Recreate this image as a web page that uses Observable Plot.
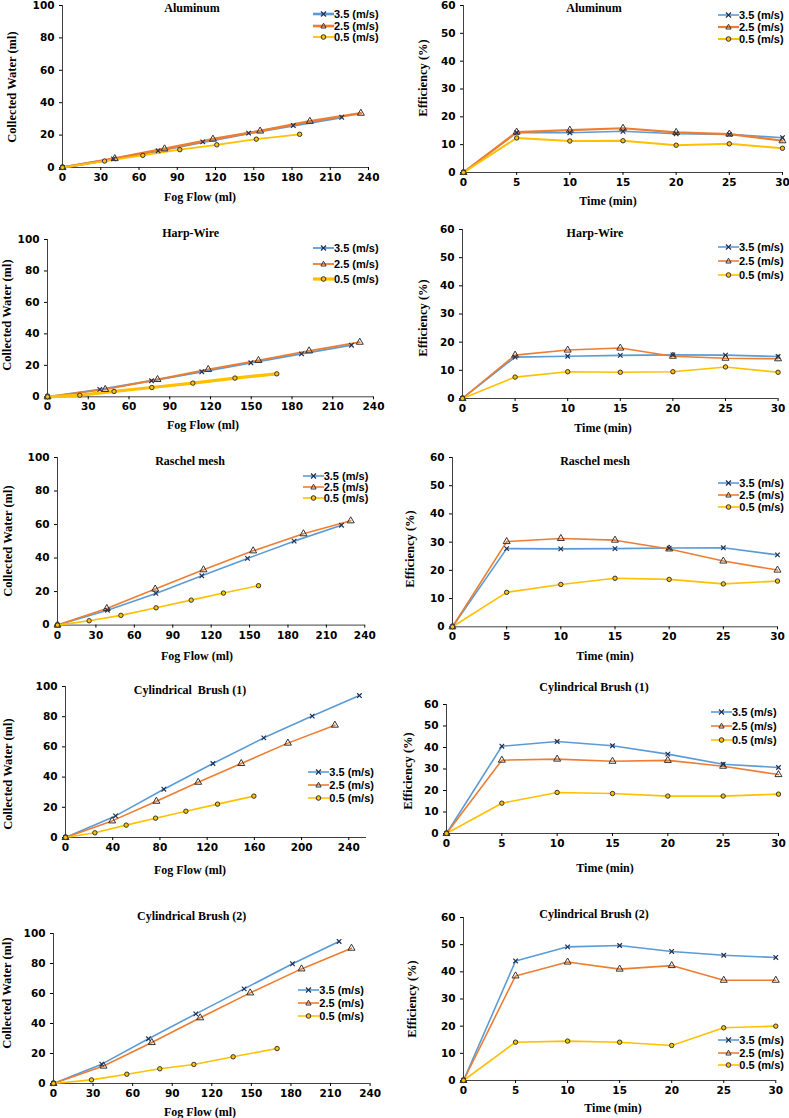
<!DOCTYPE html>
<html>
<head>
<meta charset="utf-8">
<script src="https://cdn.jsdelivr.net/npm/d3@7"></script>
<script src="https://cdn.jsdelivr.net/npm/@observablehq/plot@0.6"></script>
<style>
  body { margin: 0; background: #fff; }
  #c { position: relative; width: 789px; height: 1118px; overflow: hidden; background: #fff; }
  .t { position: absolute; transform: translate(-50%, -50%); white-space: pre; font-family: "Liberation Serif", serif; font-weight: bold; font-size: 12px; color: #000; }
  .yl { position: absolute; transform: translate(-50%, -50%) rotate(-90deg); white-space: pre; font-family: "Liberation Serif", serif; font-weight: bold; font-size: 12.5px; color: #000; }
  .lg { position: absolute; font-family: "Liberation Sans", Arial, sans-serif; font-weight: bold; font-size: 11px; color: #000; white-space: nowrap; }
  .lg svg { vertical-align: middle; }
</style>
</head>
<body>
<div id="c"></div>
<script>
// ---------------- DATA ----------------
const speeds = ["3.5 (m/s)", "2.5 (m/s)", "0.5 (m/s)"];
const time = [0, 5, 10, 15, 20, 25, 30];

// Aluminum
const alFlow35 = [0, 40, 75, 110, 146, 181, 219];
const alWater35 = [0, 5.3, 10.3, 15.8, 21.2, 25.9, 31];
const alFlow25 = [0, 41, 80, 118, 155, 194, 234];
const alWater25 = [0, 5.5, 11.5, 17.5, 22.5, 28.5, 33.5];
const alFlow05 = [0, 33, 63, 92, 121, 152, 186];
const alWater05 = [0, 4, 7.5, 11, 14, 17.5, 20.5];
const alEff35 = [0, 14.3, 14.3, 14.8, 13.9, 13.7, 12.5];
const alEff25 = [0, 14.5, 15.2, 15.9, 14.4, 13.8, 11.4];
const alEff05 = [0, 12.4, 11.3, 11.4, 9.8, 10.3, 8.7];

// Harp-Wire
const hwFlow35 = [0, 38.5, 76.6, 113.6, 149.7, 187, 223.8];
const hwWater35 = [0, 4.7, 10.2, 15.9, 21.6, 27.3, 32.8];
const hwFlow25 = [0, 42.5, 81, 118.3, 155.3, 192.6, 229.9];
const hwWater25 = [0, 4.7, 11, 17.4, 23.1, 29.2, 34.7];
const hwFlow05 = [0, 23.8, 49, 76.8, 107, 138, 168.8];
const hwWater05 = [0, 1, 3.4, 5.9, 8.7, 11.9, 14.6];
const hwEff35 = [0, 14.7, 15.0, 15.3, 15.5, 15.4, 14.9];
const hwEff25 = [0, 15.4, 17.2, 17.9, 15.0, 14.3, 14.1];
const hwEff05 = [0, 7.6, 9.5, 9.3, 9.5, 11.2, 9.3];

// Raschel mesh
const rmFlow35 = [0, 39, 76.8, 112.7, 148.4, 184.8, 221.8];
const rmWater35 = [0, 8.9, 18.9, 29.4, 39.8, 50.1, 59.6];
const rmFlow25 = [0, 38.5, 76.3, 114, 152.8, 192.1, 229];
const rmWater25 = [0, 9.9, 21.5, 33, 44.3, 54.5, 62.2];
const rmFlow05 = [0, 24.7, 49.5, 77, 104.4, 129.6, 157];
const rmWater05 = [0, 2.6, 5.8, 10.3, 14.9, 19.1, 23.5];
const rmEff35 = [0, 27.7, 27.6, 27.7, 27.9, 28.0, 25.5];
const rmEff25 = [0, 30.2, 31.3, 30.7, 27.6, 23.3, 20.1];
const rmEff05 = [0, 12.2, 15.0, 17.2, 16.8, 15.2, 16.2];

// Cylindrical Brush (1)
const cb1Flow35 = [0, 42.4, 83.3, 124.9, 168, 209, 249];
const cb1Water35 = [0, 14.3, 32, 49, 66, 80.4, 94];
const cb1Flow25 = [0, 39.5, 77, 112.4, 148.9, 188.4, 228.2];
const cb1Water25 = [0, 11, 24, 36.6, 49, 62.5, 74.4];
const cb1Flow05 = [0, 24.9, 51.4, 76.3, 102, 128.8, 159.6];
const cb1Water05 = [0, 3.1, 8.2, 12.8, 17.4, 22.1, 27.4];
const cb1Eff35 = [0, 40.6, 42.8, 40.8, 36.9, 32.2, 30.7];
const cb1Eff25 = [0, 34.1, 34.6, 33.6, 34.0, 31.3, 27.4];
const cb1Eff05 = [0, 14.1, 19.1, 18.6, 17.4, 17.4, 18.3];

// Cylindrical Brush (2)
const cb2Flow35 = [0, 36.6, 72, 107.9, 144.5, 181.2, 216.5];
const cb2Water35 = [0, 12.9, 29.8, 46.4, 63.1, 79.8, 94.7];
const cb2Flow25 = [0, 37.9, 74.5, 111.2, 149.1, 188, 225.9];
const cb2Water25 = [0, 11.6, 27.3, 43.8, 60.4, 76.4, 90.2];
const cb2Flow05 = [0, 28.8, 55.6, 80.6, 106.4, 136.2, 169.5];
const cb2Water05 = [0, 2.4, 6.2, 9.8, 12.7, 17.8, 23.3];
const cb2Eff35 = [0, 44.0, 49.2, 49.7, 47.5, 46.1, 45.3];
const cb2Eff25 = [0, 38.5, 43.6, 41.0, 42.3, 36.9, 36.9];
const cb2Eff05 = [0, 14.1, 14.5, 14.1, 12.9, 19.4, 20.0];

const flowTicks30 = [0, 30, 60, 90, 120, 150, 180, 210, 240];
const flowTicks40 = [0, 40, 80, 120, 160, 200, 240];
const waterTicks = [0, 20, 40, 60, 80, 100];
const effTicks = [0, 10, 20, 30, 40, 50, 60];
const timeTicks = [0, 5, 10, 15, 20, 25, 30];

// ---------------- STYLE ----------------
const W = 789;
const COLORS = ["#5B9BD5", "#ED7D31", "#FFC000"];
const SYMS = ["times", "triangle", "circle"];
const MSTROKE = ["#1F2F55", "#333333", "#333333"];
const MFILL = ["none", "none", "#FFC000"];
const MR = [2.2, 2.6, 2.2];
const root = document.getElementById("c");

function addText(cls, txt, x, y, extra) {
  const d = document.createElement("div");
  d.className = cls;
  d.textContent = txt;
  d.style.left = x + "px";
  d.style.top = y + "px";
  if (extra) Object.assign(d.style, extra);
  root.appendChild(d);
}

function swatch(i, lw) {
  const w = 21, h = 10, cx = 10.5, cy = 5;
  let m = "";
  if (i === 0) m = `<path d="M${cx-2.5},${cy-2.5}L${cx+2.5},${cy+2.5}M${cx-2.5},${cy+2.5}L${cx+2.5},${cy-2.5}" stroke="${MSTROKE[0]}" stroke-width="1.2"/>`;
  if (i === 1) m = `<path d="M${cx},${cy-2.8}L${cx+2.6},${cy+2}L${cx-2.6},${cy+2}Z" fill="none" stroke="${MSTROKE[1]}" stroke-width="1"/>`;
  if (i === 2) m = `<circle cx="${cx}" cy="${cy}" r="2.3" fill="${MFILL[2]}" stroke="${MSTROKE[2]}" stroke-width="1"/>`;
  return `<svg width="${w}" height="${h}"><line x1="0" y1="${cy}" x2="${w}" y2="${cy}" stroke="${COLORS[i]}" stroke-width="${lw}"/>${m}</svg>`;
}

function legend(x, y, gap, lws) {
  speeds.forEach((s, i) => {
    const d = document.createElement("div");
    d.className = "lg";
    d.style.left = x + "px";
    d.style.top = (y + i * gap - 7) + "px";
    d.innerHTML = swatch(i, lws[i]) + `<span style="vertical-align:middle">${s}</span>`;
    root.appendChild(d);
  });
}

function panel(cfg) {
  const mL = 50, mT = 10, mB = 24;
  const mR = Math.max(3, Math.min(18, W - cfg.x1 - 1));
  const left = cfg.x0 - mL, top = cfg.yT - mT;
  const width = cfg.x1 + mR - left;
  const height = cfg.yB + mB - top;
  const marks = [
    Plot.ruleX([cfg.xDomain[0]], {stroke: "#404040", strokeWidth: 1}),
    Plot.ruleY([cfg.yDomain[0]], {stroke: "#404040", strokeWidth: 1}),
    Plot.axisX({ticks: cfg.xTicks, tickSize: 3, tickPadding: 3, label: null, tickFormat: d => String(d)}),
    Plot.axisY({ticks: cfg.yTicks, tickSize: 3, tickPadding: 5, label: null, tickFormat: d => String(d)})
  ];
  cfg.series.forEach((s, i) => {
    const rows = s.x.map((xv, j) => ({x: xv, y: s.y[j]}));
    marks.push(Plot.line(rows, {x: "x", y: "y", stroke: COLORS[i], strokeWidth: cfg.lw[i]}));
  });
  cfg.series.forEach((s, i) => {
    const rows = s.x.map((xv, j) => ({x: xv, y: s.y[j]}));
    marks.push(Plot.dot(rows, {x: "x", y: "y", symbol: SYMS[i], r: MR[i], stroke: MSTROKE[i], fill: MFILL[i], strokeWidth: i === 0 ? 1.2 : 1}));
  });
  const svg = Plot.plot({
    width, height,
    marginLeft: mL, marginTop: mT, marginRight: mR, marginBottom: mB,
    x: {domain: cfg.xDomain},
    y: {domain: cfg.yDomain},
    style: {fontFamily: "DejaVu Sans", fontSize: "10.5px", fontWeight: "bold", color: "#000", background: "transparent", overflow: "visible"},
    marks
  });
  svg.style.position = "absolute";
  svg.style.left = left + "px";
  svg.style.top = top + "px";
  root.appendChild(svg);
  addText("t", cfg.title, cfg.title_xy[0], cfg.title_xy[1]);
  addText("t", cfg.xlabel, cfg.xl_xy[0], cfg.xl_xy[1]);
  addText("yl", cfg.ylabel, cfg.yl_xy[0], cfg.yl_xy[1]);
  legend(cfg.lg[0], cfg.lg[1], cfg.lg[2], cfg.lw);
}

const FF = "Fog Flow (ml)", TM = "Time (min)", CW = "Collected Water (ml)", EF = "Efficiency (%)";

// Row 1: Aluminum
panel({x0: 62.3, x1: 368.3, yB: 166.7, yT: 4.7, xDomain: [0, 240], yDomain: [0, 100], xTicks: flowTicks30, yTicks: waterTicks,
  series: [{x: alFlow35, y: alWater35}, {x: alFlow25, y: alWater25}, {x: alFlow05, y: alWater05}], lw: [2.6, 2.6, 1.8],
  title: "Aluminum", title_xy: [192, 7.5], xlabel: FF, xl_xy: [200, 197], ylabel: CW, yl_xy: [12, 87], lg: [313, 14, 11.7]});
panel({x0: 462.7, x1: 781.7, yB: 171.7, yT: 4.7, xDomain: [0, 30], yDomain: [0, 60], xTicks: timeTicks, yTicks: effTicks,
  series: [{x: time, y: alEff35}, {x: time, y: alEff25}, {x: time, y: alEff05}], lw: [1.6, 2.2, 2],
  title: "Aluminum", title_xy: [594, 7.5], xlabel: TM, xl_xy: [608, 201], ylabel: EF, yl_xy: [423, 78], lg: [718, 15, 12]});

// Row 2: Harp-Wire
panel({x0: 46.7, x1: 372.7, yB: 396, yT: 238.7, xDomain: [0, 240], yDomain: [0, 100], xTicks: flowTicks30, yTicks: waterTicks,
  series: [{x: hwFlow35, y: hwWater35}, {x: hwFlow25, y: hwWater25}, {x: hwFlow05, y: hwWater05}], lw: [1.8, 1.8, 3.2],
  title: "Harp-Wire", title_xy: [190.7, 232.7], xlabel: FF, xl_xy: [203, 425], ylabel: CW, yl_xy: [7, 315], lg: [313, 248, 15.5]});
panel({x0: 461.7, x1: 777.3, yB: 397.7, yT: 228.7, xDomain: [0, 30], yDomain: [0, 60], xTicks: timeTicks, yTicks: effTicks,
  series: [{x: time, y: hwEff35}, {x: time, y: hwEff25}, {x: time, y: hwEff05}], lw: [1.6, 1.6, 1.6],
  title: "Harp-Wire", title_xy: [595, 232.7], xlabel: TM, xl_xy: [603, 428], ylabel: EF, yl_xy: [423, 318], lg: [718, 247, 14]});

// Row 3: Raschel mesh
panel({x0: 56.7, x1: 364, yB: 624.3, yT: 456.7, xDomain: [0, 240], yDomain: [0, 100], xTicks: flowTicks30, yTicks: waterTicks,
  series: [{x: rmFlow35, y: rmWater35}, {x: rmFlow25, y: rmWater25}, {x: rmFlow05, y: rmWater05}], lw: [1.6, 1.6, 1.6],
  title: "Raschel mesh", title_xy: [190, 460.7], xlabel: FF, xl_xy: [197, 656], ylabel: CW, yl_xy: [8, 541], lg: [302.7, 475.7, 11.3]});
panel({x0: 451.7, x1: 776.7, yB: 626, yT: 456.7, xDomain: [0, 30], yDomain: [0, 60], xTicks: timeTicks, yTicks: effTicks,
  series: [{x: time, y: rmEff35}, {x: time, y: rmEff25}, {x: time, y: rmEff05}], lw: [1.6, 1.6, 1.6],
  title: "Raschel mesh", title_xy: [595, 460.7], xlabel: TM, xl_xy: [605, 656], ylabel: EF, yl_xy: [410, 549], lg: [718.3, 483.3, 11.7]});

// Row 4: Cylindrical Brush (1)
panel({x0: 65, x1: 366, yB: 837, yT: 686, xDomain: [0, 255], yDomain: [0, 100], xTicks: flowTicks40, yTicks: waterTicks,
  series: [{x: cb1Flow35, y: cb1Water35}, {x: cb1Flow25, y: cb1Water25}, {x: cb1Flow05, y: cb1Water05}], lw: [1.6, 1.6, 1.6],
  title: "Cylindrical  Brush (1)", title_xy: [190, 690], xlabel: FF, xl_xy: [190, 870], ylabel: CW, yl_xy: [8, 774], lg: [308.3, 772.3, 12.7]});
panel({x0: 445.7, x1: 777.7, yB: 833.3, yT: 704.3, xDomain: [0, 30], yDomain: [0, 60], xTicks: timeTicks, yTicks: effTicks,
  series: [{x: time, y: cb1Eff35}, {x: time, y: cb1Eff25}, {x: time, y: cb1Eff05}], lw: [1.6, 1.6, 1.6],
  title: "Cylindrical Brush (1)", title_xy: [594, 686.7], xlabel: TM, xl_xy: [605, 867.7], ylabel: EF, yl_xy: [408, 771], lg: [711, 712.3, 14]});

// Row 5: Cylindrical Brush (2)
panel({x0: 52.7, x1: 369.3, yB: 1082.7, yT: 932.7, xDomain: [0, 240], yDomain: [0, 100], xTicks: flowTicks30, yTicks: waterTicks,
  series: [{x: cb2Flow35, y: cb2Water35}, {x: cb2Flow25, y: cb2Water25}, {x: cb2Flow05, y: cb2Water05}], lw: [1.6, 1.6, 1.6],
  title: "Cylindrical Brush (2)", title_xy: [191.7, 916], xlabel: FF, xl_xy: [200, 1111.7], ylabel: CW, yl_xy: [7, 992.5], lg: [298.3, 990, 13]});
panel({x0: 462.7, x1: 775, yB: 1080.3, yT: 917.3, xDomain: [0, 30], yDomain: [0, 60], xTicks: timeTicks, yTicks: effTicks,
  series: [{x: time, y: cb2Eff35}, {x: time, y: cb2Eff25}, {x: time, y: cb2Eff05}], lw: [1.6, 1.6, 1.6],
  title: "Cylindrical Brush (2)", title_xy: [594, 914], xlabel: TM, xl_xy: [613, 1108.3], ylabel: EF, yl_xy: [412, 999], lg: [718.3, 1040, 12.5]});
</script>
</body>
</html>
